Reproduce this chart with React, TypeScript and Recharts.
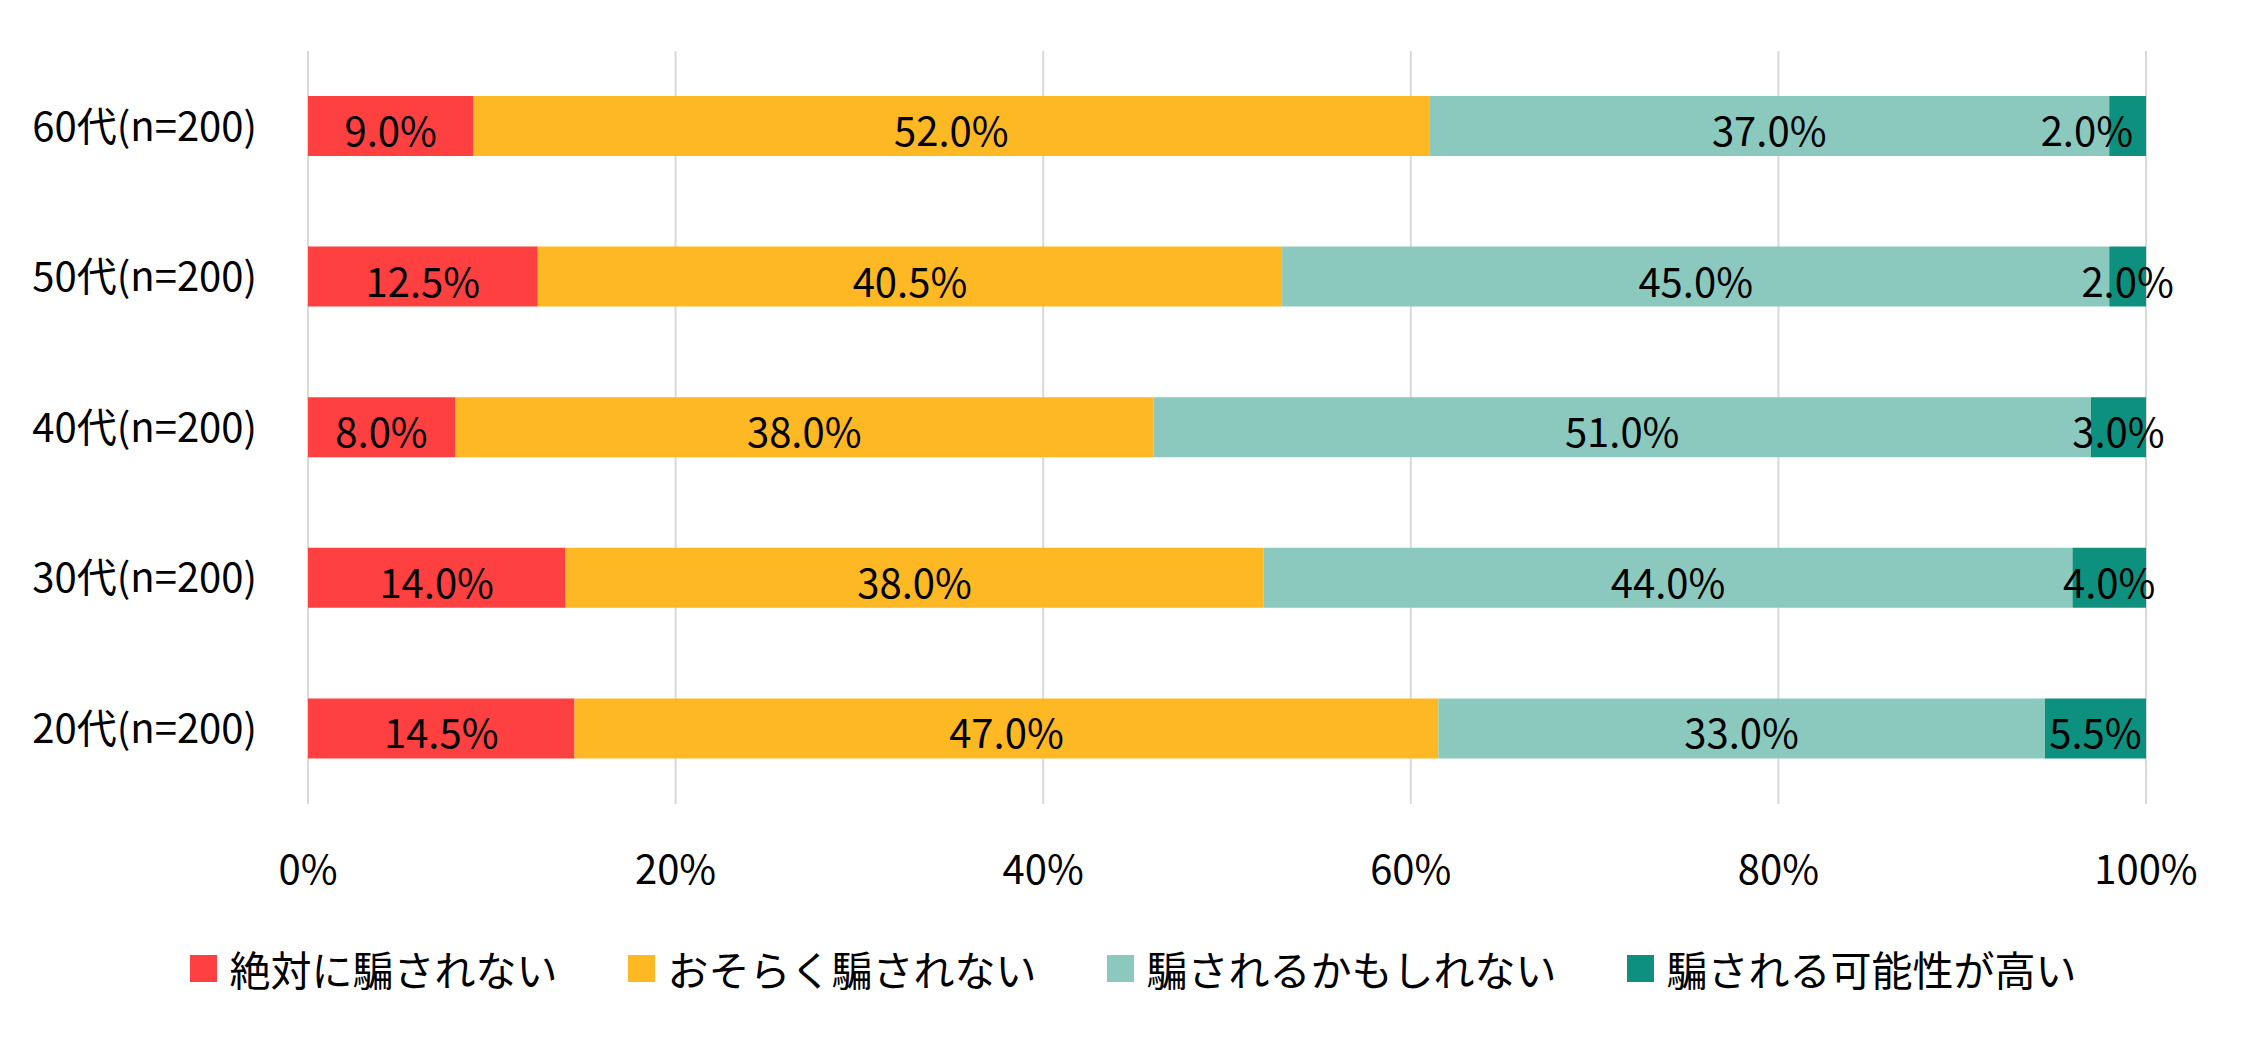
import React from 'react'
import {
  BarChart,
  Bar,
  XAxis,
  YAxis,
  CartesianGrid,
  Legend,
  LabelList,
} from 'recharts'

// 年代別（上から60代→20代）
const AGE_GROUPS = ['60代(n=200)', '50代(n=200)', '40代(n=200)', '30代(n=200)', '20代(n=200)']

const NEVER = [9.0, 12.5, 8.0, 14.0, 14.5]
const PROBABLY_NOT = [52.0, 40.5, 38.0, 38.0, 47.0]
const MAYBE = [37.0, 45.0, 51.0, 44.0, 33.0]
const LIKELY = [2.0, 2.0, 3.0, 4.0, 5.5]

const X_TICKS = [0, 20, 40, 60, 80, 100]

const SERIES = [
  { key: 'never', name: '絶対に騙されない', color: '#FF4040', values: NEVER },
  { key: 'probablyNot', name: 'おそらく騙されない', color: '#FDB823', values: PROBABLY_NOT },
  { key: 'maybe', name: '騙されるかもしれない', color: '#8BC9BE', values: MAYBE },
  { key: 'likely', name: '騙される可能性が高い', color: '#0E907E', values: LIKELY },
]

const rows = AGE_GROUPS.map((age, i) => {
  const row: Record<string, string | number> = { age }
  SERIES.forEach((s) => {
    row[s.key] = s.values[i]
  })
  return row
})

const FONT = '"Noto Sans CJK JP", "Noto Sans", sans-serif'
const FONT_SIZE = 40

function makeLabel(seriesKey: string) {
  return (props: any) => {
    const { x, y, width, height, value, index } = props
    const text = `${Number(value).toFixed(1)}%`
    // 60代の最後の区分だけラベルを棒の右端に寄せる
    const shiftLeft = seriesKey === 'likely' && index === 0
    return (
      <text
        x={shiftLeft ? x + width - 13 : x + width / 2}
        y={y + height / 2 + 3}
        textAnchor={shiftLeft ? 'end' : 'middle'}
        dominantBaseline="central"
        fill="#000"
        fontSize={FONT_SIZE}
        fontFamily={FONT}
      >
        {text}
      </text>
    )
  }
}

function LegendContent() {
  return (
    <div
      style={{
        height: 136,
        display: 'flex',
        alignItems: 'center',
        justifyContent: 'center',
        paddingLeft: 120,
        paddingBottom: 8,
        boxSizing: 'border-box',
        fontFamily: FONT,
        fontSize: 41,
        color: '#000',
      }}
    >
      {SERIES.map((s, i) => (
        <div
          key={s.key}
          style={{
            display: 'flex',
            alignItems: 'center',
            marginRight: i < SERIES.length - 1 ? 70 : 0,
          }}
        >
          <span
            style={{
              width: 27,
              height: 27,
              background: s.color,
              display: 'inline-block',
              marginRight: 13,
            }}
          />
          <span>{s.name}</span>
        </div>
      ))}
    </div>
  )
}

export default function App() {
  return (
    <div style={{ position: 'absolute', left: 0, top: 0, background: '#fff' }}>
      <BarChart
        width={2249}
        height={1040}
        data={rows}
        layout="vertical"
        margin={{ top: 51, right: 103, left: 0, bottom: 0 }}
      >
        <CartesianGrid horizontal={false} stroke="#D9D9D9" strokeWidth={2} />
        <XAxis
          type="number"
          domain={[0, 100]}
          ticks={X_TICKS}
          tickFormatter={(v: number) => `${v}%`}
          axisLine={false}
          tickLine={false}
          tickSize={0}
          tickMargin={52}
          height={100}
          tick={{ fill: '#000', fontSize: FONT_SIZE, fontFamily: FONT }}
        />
        <YAxis
          type="category"
          dataKey="age"
          width={308}
          axisLine={false}
          tickLine={false}
          tickSize={0}
          tickMargin={51}
          tick={{ fill: '#000', fontSize: FONT_SIZE, fontFamily: FONT }}
        />
        <Legend verticalAlign="bottom" content={<LegendContent />} wrapperStyle={{ height: 136 }} />
        {SERIES.map((s) => (
          <Bar
            key={s.key}
            dataKey={s.key}
            name={s.name}
            stackId="a"
            fill={s.color}
            barSize={60}
            isAnimationActive={false}
          >
            <LabelList dataKey={s.key} content={makeLabel(s.key)} />
          </Bar>
        ))}
      </BarChart>
    </div>
  )
}
